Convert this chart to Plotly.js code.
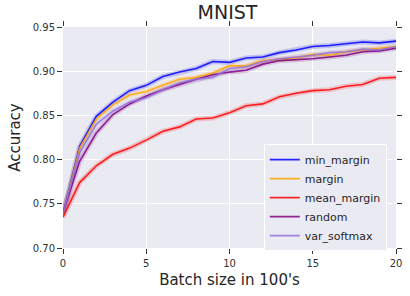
<!DOCTYPE html>
<html><head><meta charset="utf-8">
<script src="https://cdn.plot.ly/plotly-3.0.1.min.js"></script>
<style>html,body{margin:0;padding:0;background:#fff}#chart{width:410px;height:296px}</style>
</head><body><div id="chart"></div>
<script>
const batches = [0,1,2,3,4,5,6,7,8,9,10,11,12,13,14,15,16,17,18,19,20];
const minMargin = [0.738,0.815,0.849,0.865,0.878,0.884,0.894,0.899,0.903,0.911,0.910,0.915,0.916,0.921,0.924,0.928,0.929,0.931,0.933,0.932,0.934];
const margin = [0.738,0.813,0.846,0.862,0.873,0.877,0.884,0.891,0.893,0.898,0.906,0.906,0.912,0.913,0.915,0.919,0.918,0.922,0.924,0.926,0.928];
const meanMargin = [0.735,0.774,0.793,0.806,0.813,0.822,0.832,0.837,0.846,0.847,0.853,0.861,0.863,0.871,0.875,0.878,0.879,0.883,0.885,0.892,0.893];
const randomSel = [0.740,0.798,0.830,0.851,0.863,0.872,0.879,0.885,0.891,0.896,0.899,0.901,0.908,0.912,0.913,0.914,0.916,0.918,0.922,0.923,0.926];
const varSoftmax = [0.739,0.808,0.840,0.855,0.865,0.870,0.879,0.887,0.891,0.893,0.903,0.905,0.911,0.914,0.916,0.918,0.921,0.922,0.925,0.924,0.928];
const seriesNames = ['min_margin','margin','mean_margin','random','var_softmax'];
const seriesData = [minMargin, margin, meanMargin, randomSel, varSoftmax];
const colors = ['blue','orange','red','purple','mediumpurple'];
const xTicks = [0,5,10,15,20];
const yTicks = [0.70,0.75,0.80,0.85,0.90,0.95];

const traces = [];
seriesData.forEach((ys,i)=>{
  traces.push({x:batches,y:ys,mode:'lines',line:{color:colors[i],width:5},opacity:0.18,showlegend:false,hoverinfo:'skip'});
});
seriesData.forEach((ys,i)=>{
  traces.push({x:batches,y:ys,mode:'lines',name:seriesNames[i],line:{color:colors[i],width:1.6},opacity:0.85});
});
traces.push({x:[batches[0]],y:[yTicks[0]],xaxis:'x2',yaxis:'y2',mode:'markers',marker:{opacity:0},showlegend:false,hoverinfo:'skip'});

const axisCommon = {
  showgrid:true, gridcolor:'#ffffff', gridwidth:1, zeroline:false, showline:false,
  ticks:'outside', ticklen:5, tickwidth:1, tickcolor:'#333',
  tickfont:{family:'DejaVu Sans', size:10, color:'#333'}
};
const layout = {
  width:410, height:296,
  margin:{l:63,r:14,t:27,b:48},
  paper_bgcolor:'#ffffff', plot_bgcolor:'#EAEAF2',
  font:{family:'DejaVu Sans', color:'#262626'},
  title:{text:'MNIST', font:{family:'DejaVu Sans', size:19, color:'#262626'}, x:0.555, xanchor:'center', y:0.982, yanchor:'top'},
  xaxis:Object.assign({}, axisCommon, {range:[0,20], tickvals:xTicks, ticktext:xTicks.map(String), ticklabelstandoff:1,
    title:{text:"Batch size in 100's", font:{family:'DejaVu Sans', size:15, color:'#262626'}, standoff:6}}),
  yaxis:Object.assign({}, axisCommon, {range:[0.70,0.95], tickvals:yTicks, ticktext:yTicks.map(v=>v.toFixed(2)),
    title:{text:'Accuracy', font:{family:'DejaVu Sans', size:15, color:'#262626'}, standoff:8}}),
  xaxis2:{overlaying:'x', side:'top', range:[0,20], tickvals:xTicks, showticklabels:false, showgrid:false, zeroline:false,
    ticks:'outside', ticklen:5, tickwidth:1, tickcolor:'#333', anchor:'y2'},
  yaxis2:{overlaying:'y', side:'right', range:[0.70,0.95], tickvals:yTicks, showticklabels:false, showgrid:false, zeroline:false,
    ticks:'outside', ticklen:5, tickwidth:1, tickcolor:'#333', anchor:'x2'},
  legend:{x:0.603, xanchor:'left', y:0.47, yanchor:'top', bgcolor:'#EAEAF2', bordercolor:'#ffffff', borderwidth:1,
    font:{family:'DejaVu Sans', size:11, color:'#262626'}, tracegroupgap:0}
};
Plotly.newPlot('chart', traces, layout, {displayModeBar:false, staticPlot:true});
</script></body></html>
